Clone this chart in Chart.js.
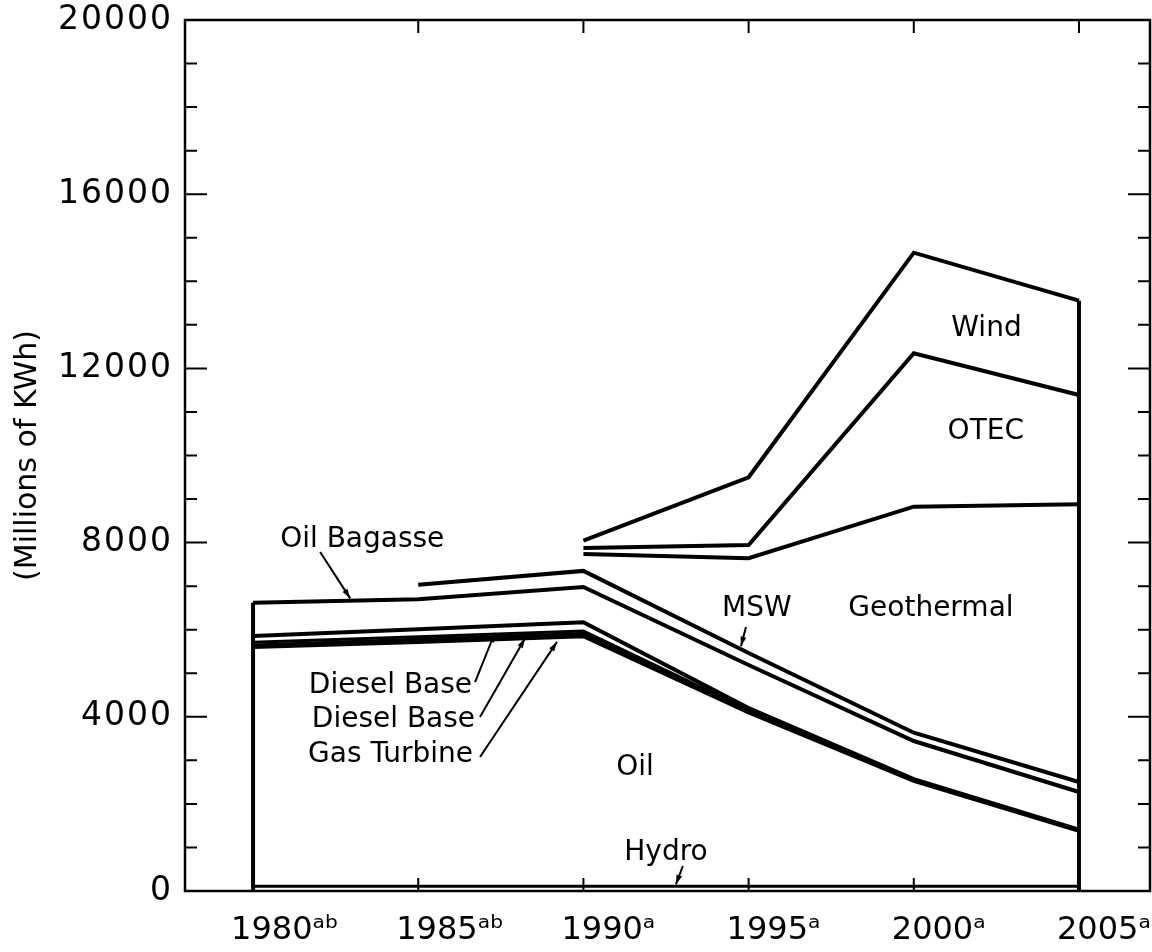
<!DOCTYPE html>
<html>
<head>
<meta charset="utf-8">
<script src="https://cdn.jsdelivr.net/npm/chart.js@4.4.1/dist/chart.umd.min.js"></script>
<style>
  html, body { margin: 0; padding: 0; background: #fff; }
  #wrap { width: 1152px; height: 952px; }
</style>
</head>
<body>
<div id="wrap"><canvas id="chart"></canvas></div>
<script>
const years = [1980, 1985, 1990, 1995, 2000, 2005];
const yearLabels = ["1980ᵃᵇ", "1985ᵃᵇ", "1990ᵃ", "1995ᵃ", "2000ᵃ", "2005ᵃ"];

// top edge of each band (cumulative), millions of kWh
const hydro      = [110, 110, 110, 110, 110, 110];
const oil        = [5600, 5720, 5850, 4100, 2530, 1380];
const gasTurbine = [5650, 5780, 5910, 4130, 2545, 1390];
const dieselA    = [5710, 5840, 5970, 4160, 2555, 1400];
const dieselB    = [5855, 6010, 6170, 4200, 2570, 1410];
const oilBagasse = [6620, 6700, 6980, 5190, 3444, 2273];
const msw        = [null, 7030, 7350, 5465, 3635, 2503];
const geothermal = [null, null, 7738, 7640, 8824, 8880];
const otec       = [null, null, 7876, 7945, 12347, 11389];
const wind       = [null, null, 8044, 9500, 14657, 13555];

const yTicksMajor = [0, 4000, 8000, 12000, 16000, 20000];

const toPoints = (vals) => years.map((yr, i) => ({ x: yr, y: vals[i] }));

const lineSet = (vals, width = 4) => ({
  data: toPoints(vals),
  borderColor: "#000",
  borderWidth: width,
  pointRadius: 0,
  tension: 0,
  spanGaps: false
});

const first = years[0];
const last = years[years.length - 1];

const edges = [
  [{ x: first, y: 0 }, { x: first, y: oilBagasse[0] }],
  [{ x: last, y: 0 }, { x: last, y: wind[wind.length - 1] }]
];

// text labels placed in data units, with pointer lines
const notes = [
  { text: "Oil Bagasse", x: 1980.82, y: 8060, align: "left" },
  { text: "Diesel Base", x: 1986.63, y: 4707, align: "right" },
  { text: "Diesel Base", x: 1986.72, y: 3926, align: "right" },
  { text: "Gas Turbine", x: 1986.66, y: 3123, align: "right" },
  { text: "Oil", x: 1991.56, y: 2824, align: "center" },
  { text: "Hydro", x: 1992.5, y: 873, align: "center" },
  { text: "MSW", x: 1995.25, y: 6475, align: "center" },
  { text: "Geothermal", x: 2000.52, y: 6475, align: "center" },
  { text: "OTEC", x: 2002.18, y: 10540, align: "center" },
  { text: "Wind", x: 2002.2, y: 12905, align: "center" }
];

const pointers = [
  [1982.03, 7784, 1982.94, 6720],
  [1986.72, 4799, 1987.32, 5930],
  [1986.87, 3995, 1988.23, 5800],
  [1986.87, 3077, 1989.2, 5720],
  [1993.01, 574, 1992.8, 150],
  [1994.92, 6062, 1994.77, 5620]
];

const frameAndNotes = {
  id: "frameAndNotes",
  afterDatasetsDraw(chart) {
    // y tick labels are drawn after this (z: 1), a little wider like the original lettering
    chart.ctx.letterSpacing = "2px";
  },
  afterDraw(chart) {
    const ctx = chart.ctx;
    const { left, right, top, bottom } = chart.chartArea;
    const xs = chart.scales.x;
    const ys = chart.scales.y;
    ctx.letterSpacing = "0px";
    ctx.save();
    ctx.strokeStyle = "#000";
    ctx.fillStyle = "#000";

    ctx.lineWidth = 2.5;
    ctx.strokeRect(left, top, right - left, bottom - top);

    ctx.lineWidth = 2;
    ys.ticks.forEach((t) => {
      const py = ys.getPixelForValue(t.value);
      const len = yTicksMajor.includes(t.value) ? 22 : 12;
      ctx.beginPath();
      ctx.moveTo(left, py);
      ctx.lineTo(left + len, py);
      ctx.moveTo(right, py);
      ctx.lineTo(right - len, py);
      ctx.stroke();
    });
    years.forEach((yr) => {
      const px = xs.getPixelForValue(yr);
      ctx.beginPath();
      if (yr !== first && yr !== last) {
        ctx.moveTo(px, bottom);
        ctx.lineTo(px, bottom - 13);
      }
      if (yr !== first) {
        ctx.moveTo(px, top);
        ctx.lineTo(px, top + 13);
      }
      ctx.stroke();
    });

    ctx.lineWidth = 2;
    pointers.forEach(([x0, y0, x1, y1]) => {
      const ax = xs.getPixelForValue(x0), ay = ys.getPixelForValue(y0);
      const bx = xs.getPixelForValue(x1), by = ys.getPixelForValue(y1);
      ctx.beginPath();
      ctx.moveTo(ax, ay);
      ctx.lineTo(bx, by);
      ctx.stroke();
      const ang = Math.atan2(by - ay, bx - ax);
      ctx.beginPath();
      ctx.moveTo(bx, by);
      ctx.lineTo(bx - 10 * Math.cos(ang - 0.3), by - 10 * Math.sin(ang - 0.3));
      ctx.lineTo(bx - 10 * Math.cos(ang + 0.3), by - 10 * Math.sin(ang + 0.3));
      ctx.closePath();
      ctx.fill();
    });

    ctx.font = "28px 'DejaVu Sans'";
    ctx.textBaseline = "middle";
    notes.forEach((n) => {
      ctx.textAlign = n.align;
      ctx.fillText(n.text, xs.getPixelForValue(n.x), ys.getPixelForValue(n.y));
    });
    ctx.restore();
  }
};

const datasets = [
  lineSet(hydro, 3),
  lineSet(oil),
  lineSet(gasTurbine, 3),
  lineSet(dieselA, 3),
  lineSet(dieselB),
  lineSet(oilBagasse),
  lineSet(msw),
  lineSet(geothermal),
  lineSet(otec),
  lineSet(wind),
  ...edges.map((pts) => ({
    data: pts,
    borderColor: "#000",
    borderWidth: 4,
    pointRadius: 0
  }))
];

new Chart(document.getElementById("chart"), {
  type: "line",
  data: { datasets },
  options: {
    responsive: true,
    maintainAspectRatio: false,
    animation: false,
    layout: { padding: { top: 20, right: 2, left: 0, bottom: 0 } },
    plugins: {
      legend: { display: false },
      tooltip: { enabled: false }
    },
    scales: {
      x: {
        type: "linear",
        min: 1977.94,
        max: 2007.15,
        afterFit: (s) => {
          s.height = 61;
          s.paddingLeft = 0;
          s.paddingRight = 0;
        },
        afterBuildTicks: (s) => { s.ticks = years.map((v) => ({ value: v })); },
        grid: { display: false, drawTicks: false },
        border: { display: false },
        ticks: {
          color: "#000",
          font: { family: "'DejaVu Sans'", size: 32 },
          padding: 20,
          align: "start",
          labelOffset: -22,
          maxRotation: 0,
          autoSkip: false,
          callback: (v) => {
            const i = years.indexOf(v);
            return i >= 0 ? yearLabels[i] : "";
          }
        }
      },
      y: {
        min: 0,
        max: 20000,
        afterFit: (s) => {
          s.width = 185;
          s.paddingTop = 0;
          s.paddingBottom = 0;
        },
        grid: { display: false, drawTicks: false },
        border: { display: false },
        title: {
          display: true,
          text: "(Millions of KWh)",
          color: "#000",
          font: { family: "'DejaVu Sans'", size: 30 },
          padding: { top: 10, bottom: 0 }
        },
        ticks: {
          z: 1,
          stepSize: 1000,
          color: "#000",
          font: { family: "'DejaVu Sans'", size: 33 },
          padding: 12,
          autoSkip: false,
          callback: (v) => (yTicksMajor.includes(v) ? String(v) : "")
        }
      }
    }
  },
  plugins: [frameAndNotes]
});
</script>
</body>
</html>
